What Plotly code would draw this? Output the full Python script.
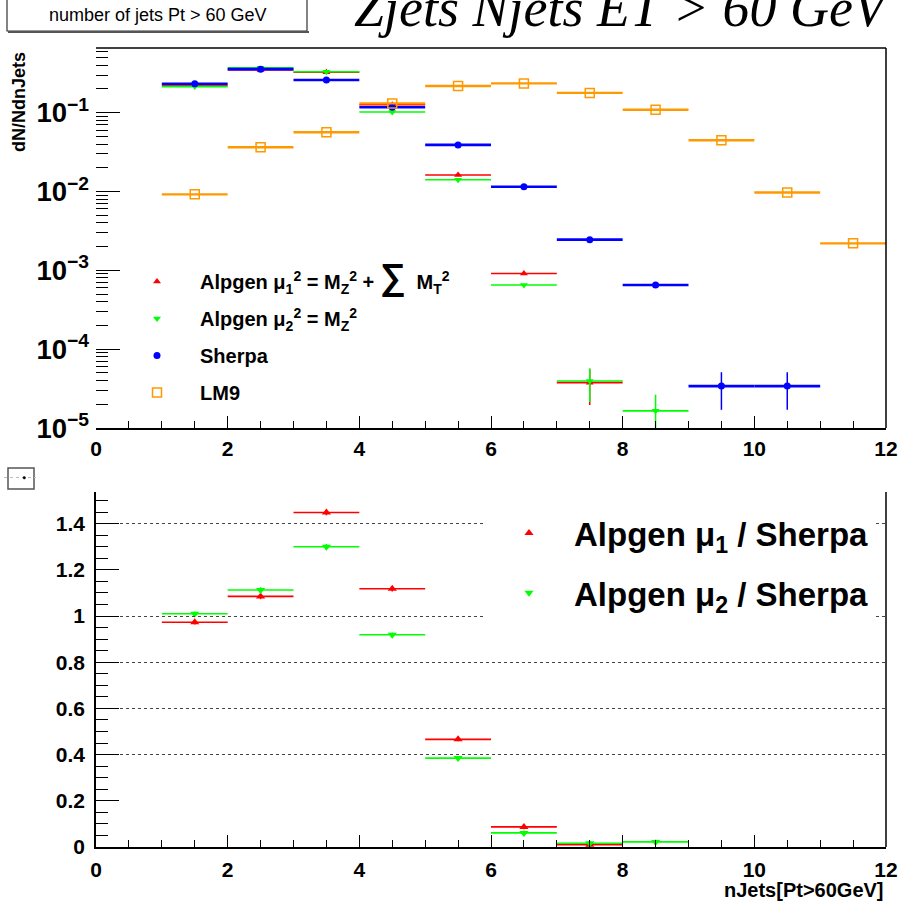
import plotly.graph_objects as go

W, H = 899, 903

# ---------------- data ----------------
bin_centers = [1.5, 2.5, 3.5, 4.5, 5.5, 6.5, 7.5, 8.5, 9.5, 10.5, 11.5]
bin_half = [0.5] * 11

alpgen_mu1 = [0.222, 0.347, 0.325, 0.126, 0.0162, 9.1e-4, 3.76e-5, None, None, None, None]
alpgen_mu1_err = [0, 0, 0, 0, 0, 0, 1.8e-5, 0, 0, 0, 0]
alpgen_mu2 = [0.214, 0.37, 0.33, 0.102, 0.0141, 6.5e-4, 3.94e-5, 1.65e-5, None, None, None]
alpgen_mu2_err = [0, 0, 0, 0, 0, 0, 1.8e-5, 1.0e-5, 0, 0, 0]
sherpa = [0.233, 0.356, 0.26, 0.117, 0.039, 0.0115, 0.00245, 6.5e-4, 3.4e-5, 3.4e-5, None]
sherpa_err = [0, 0, 0, 0, 0, 0, 0, 0, 1.7e-5, 1.7e-5, 0]
lm9 = [0.0092, 0.0364, 0.0565, 0.131, 0.218, 0.235, 0.178, 0.109, 0.0447, 0.0097, 0.0022]

ratio_mu1 = [0.973, 1.085, 1.448, 1.118, 0.466, 0.087, 0.01, None, None, None, None]
ratio_mu1_err = [0.01, 0.012, 0.012, 0.012, 0.008, 0.01, 0.01, 0, 0, 0, 0]
ratio_mu2 = [1.010, 1.113, 1.300, 0.919, 0.385, 0.061, 0.016, 0.022, None, None, None]
ratio_mu2_err = [0.01, 0.012, 0.012, 0.01, 0.008, 0.01, 0.01, 0.01, 0, 0, 0]

grid_values = [0.4, 0.6, 0.8, 1.0, 1.4]

names_top = [
    "Alpgen μ<sub>1</sub><sup>2</sup> = M<sub>Z</sub><sup>2</sup> + <span style='font-size:36px'>∑</span>  M<sub>T</sub><sup>2</sup>",
    "Alpgen μ<sub>2</sub><sup>2</sup> = M<sub>Z</sub><sup>2</sup>",
    "Sherpa",
    "LM9",
]
names_bottom = ["Alpgen μ<sub>1</sub> / Sherpa", "Alpgen μ<sub>2</sub> / Sherpa"]

RED, GREEN, BLUE, ORANGE = "#ff0000", "#00ff00", "#0000ff", "#ff9900"
SANS = "Liberation Sans, Arial"


def px(x):
    return x / W


def py(y):
    return 1 - y / H


fig = go.Figure()


def add_series(x, y, yerr, color, symbol, size, lw, name, xa, ya, legend, group, mline=None):
    marker = dict(symbol=symbol, size=size, color=color)
    if mline:
        marker["line"] = dict(color=color, width=mline)
    fig.add_trace(go.Scatter(
        x=x, y=y, mode="markers", name=name, marker=marker,
        error_x=dict(type="data", array=bin_half, color=color, thickness=lw, width=0),
        error_y=dict(type="data", array=yerr, color=color, thickness=1.5, width=0),
        xaxis=xa, yaxis=ya, legend=legend, legendgroup=group,
    ))


add_series(bin_centers, alpgen_mu1, alpgen_mu1_err, RED, "triangle-up", 7, 1.6, names_top[0], "x", "y", "legend", "a")
add_series(bin_centers, alpgen_mu2, alpgen_mu2_err, GREEN, "triangle-down", 7, 1.6, names_top[1], "x", "y", "legend", "b")
add_series(bin_centers, sherpa, sherpa_err, BLUE, "circle", 7, 2.6, names_top[2], "x", "y", "legend", "c")
add_series(bin_centers, lm9, [0] * 11, ORANGE, "square-open", 9, 2.4, names_top[3], "x", "y", "legend", "d", mline=1.5)

add_series(bin_centers, ratio_mu1, ratio_mu1_err, RED, "triangle-up", 8, 1.6, names_bottom[0], "x2", "y2", "legend2", "e")
add_series(bin_centers, ratio_mu2, ratio_mu2_err, GREEN, "triangle-down", 8, 1.6, names_bottom[1], "x2", "y2", "legend2", "f")

# empty trace to host grid axes
fig.add_trace(go.Scatter(x=[], y=[], xaxis="x3", yaxis="y3", showlegend=False))

tickfont = dict(family=SANS, size=21, color="black", weight="bold")

top_dom = [py(428), py(48)]
bot_dom = [py(847), py(492)]
xdom = [px(96), px(886)]

xcommon = dict(range=[0, 12], dtick=2, tick0=0, ticks="inside", ticklen=12, tickwidth=1,
               tickcolor="black", showline=True, linecolor="black", linewidth=1.5,
               showgrid=False, zeroline=False, tickfont=tickfont,
               minor=dict(dtick=0.5, ticks="inside", ticklen=7, tickcolor="black", showgrid=False),
               automargin=False, domain=xdom)

fig.update_layout(
    width=W, height=H,
    margin=dict(l=0, r=0, t=0, b=0, autoexpand=False),
    paper_bgcolor="white", plot_bgcolor="rgba(0,0,0,0)",
    xaxis=dict(anchor="y", ticklabelstandoff=1, **xcommon),
    yaxis=dict(type="log", range=[-5, -0.18], domain=top_dom, anchor="x",
               dtick=1, ticks="inside", ticklen=24, tickwidth=1.2, tickcolor="black",
               exponentformat="power", showline=False, showgrid=False, zeroline=False,
               tickfont=dict(family=SANS, size=22, color="black", weight="bold"),
               ticklabelstandoff=6,
               minor=dict(ticks="inside", ticklen=12, tickcolor="black", showgrid=False),
               automargin=False),
    xaxis2=dict(anchor="y2", ticklabelstandoff=3, **xcommon),
    yaxis2=dict(range=[0, 1.537], domain=bot_dom, anchor="x2", dtick=0.2, tick0=0,
                ticks="inside", ticklen=23, tickwidth=1.2, tickcolor="black",
                showline=True, linecolor="black", linewidth=1.5, showgrid=False, zeroline=False,
                tickfont=tickfont, ticklabelstandoff=5,
                minor=dict(dtick=0.05, ticks="inside", ticklen=12, tickcolor="black", showgrid=False),
                automargin=False),
    xaxis3=dict(domain=[px(120), px(886)], range=[0, 12], anchor="y3", visible=False,
                showgrid=False),
    yaxis3=dict(domain=bot_dom, range=[0, 1.537], anchor="x3", tickvals=grid_values,
                showticklabels=False, ticks="", showline=False, zeroline=False,
                showgrid=True, gridcolor="#444444", gridwidth=1, griddash="dot"),
    legend=dict(x=px(114), y=py(262), xanchor="left", yanchor="top",
                font=dict(family=SANS, size=20, color="black", weight="bold"),
                bgcolor="rgba(0,0,0,0)", borderwidth=0, tracegroupgap=8, itemwidth=76),
    legend2=dict(x=px(484), y=py(505), xanchor="left", yanchor="top",
                 font=dict(family=SANS, size=33, color="black", weight="bold"),
                 bgcolor="white", borderwidth=0, tracegroupgap=14, itemwidth=80),
    showlegend=True,
)

shapes = [
    # top panel frame (top + right edges)
    dict(type="line", xref="x domain", yref="y domain", x0=0, x1=1, y0=1, y1=1,
         line=dict(color="black", width=1.5)),
    dict(type="line", xref="x domain", yref="y domain", x0=1, x1=1, y0=0, y1=1,
         line=dict(color="black", width=1.5)),
    # bottom panel right edge
    dict(type="line", xref="x2 domain", yref="y2 domain", x0=1, x1=1, y0=0, y1=1,
         line=dict(color="black", width=1.5)),
    # top-left label box
    dict(type="rect", xref="paper", yref="paper", x0=px(7), x1=px(307), y0=py(31), y1=py(-5),
         line=dict(color="#333333", width=1.2), fillcolor="rgba(0,0,0,0)"),
    dict(type="line", xref="paper", yref="paper", x0=px(8), x1=px(309), y0=py(32), y1=py(32),
         line=dict(color="#555555", width=2)),
    # bottom-left tiny box
    dict(type="rect", xref="paper", yref="paper", x0=px(8), x1=px(34), y0=py(489), y1=py(468),
         line=dict(color="#555555", width=1.5), fillcolor="white"),
    dict(type="line", xref="paper", yref="paper", x0=px(4), x1=px(36), y0=py(477.5), y1=py(477.5),
         line=dict(color="#bbbbbb", width=1, dash="dot")),
    dict(type="circle", xref="paper", yref="paper", x0=px(23), x1=px(25.5), y0=py(479), y1=py(476.5),
         line=dict(color="black", width=0.5), fillcolor="black"),
]
fig.update_layout(shapes=shapes)

annotations = [
    dict(text="Zjets Njets ET > 60 GeV", x=px(352), y=py(40), xref="paper", yref="paper",
         xanchor="left", yanchor="bottom", showarrow=False,
         font=dict(family="Liberation Serif, Times New Roman", size=54, color="black", style="italic")),
    dict(text="number of jets Pt > 60 GeV", x=px(158), y=py(15), xref="paper", yref="paper",
         xanchor="center", yanchor="middle", showarrow=False,
         font=dict(family=SANS, size=18, color="black")),
    dict(text="dN/NdnJets", x=px(19), y=py(50), xref="paper", yref="paper", textangle=-90,
         xanchor="center", yanchor="top", showarrow=False,
         font=dict(family=SANS, size=18, color="black", weight="bold")),
    dict(text="nJets[Pt>60GeV]", x=px(886), y=py(890), xref="paper", yref="paper",
         xanchor="right", yanchor="middle", showarrow=False,
         font=dict(family=SANS, size=20, color="black", weight="bold")),
]
fig.update_layout(annotations=annotations)

fig.write_html("out.html")
